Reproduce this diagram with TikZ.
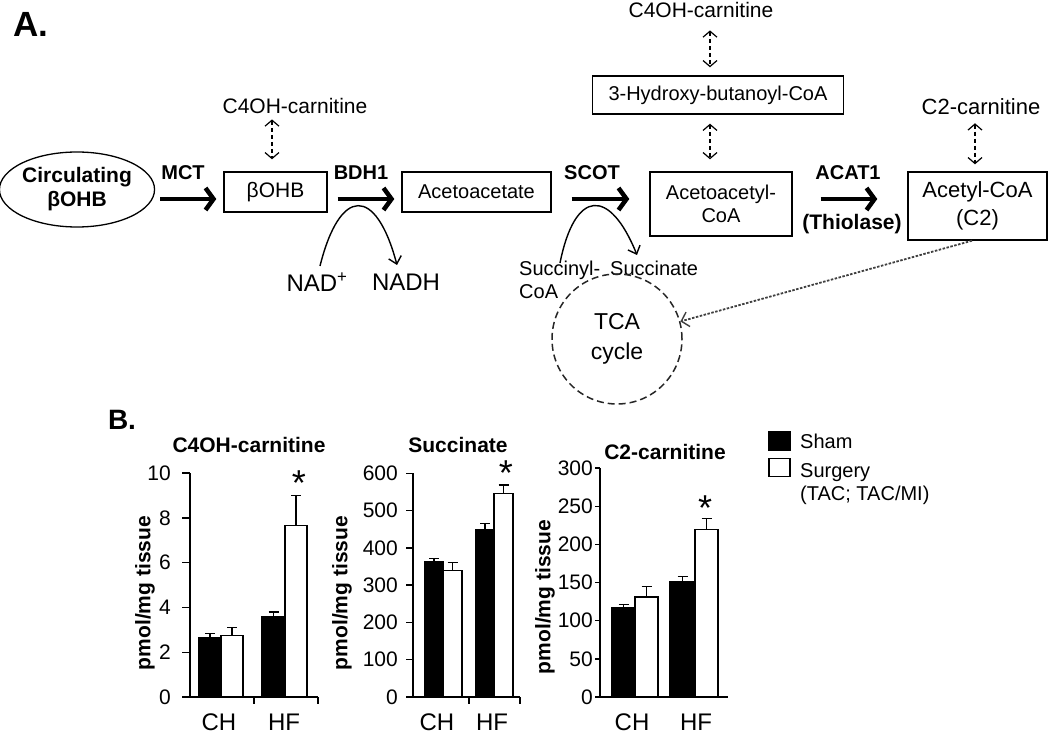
\documentclass[tikz,border=0pt]{standalone}
\usepackage{fontspec}
\setmainfont{Liberation Sans}
\usetikzlibrary{arrows.meta,calc,shapes.geometric}
\newcommand{\myfs}[1]{\fontsize{#1}{#1}\selectfont}
\newcommand{\drawbar}[6]{%
  \draw[#6] (#1,697) rectangle (#2,{697-#4*#3});
  \draw[errb] ({(#1+#2)/2},{697-#4*#3}) -- ({(#1+#2)/2},{697-#5*#3});
  \draw[errb] ({(#1+#2)/2-5},{697-#5*#3}) -- ({(#1+#2)/2+5},{697-#5*#3});
}
\begin{document}
\begin{tikzpicture}[x=1pt,y=-1pt,
  lbl/.style={inner sep=0pt, font=\myfs{20}},
  blbl/.style={inner sep=0pt, font=\bfseries\myfs{20}},
  box/.style={draw, line width=1.4pt, inner sep=0pt, align=center, font=\myfs{20}},
  fat/.style={line width=4.5pt, -{Straight Barb[length=8pt,width=22pt]}},
  thinarr/.style={line width=1.4pt, -{Straight Barb[length=7pt,width=13pt]}},
  dbl/.style={line width=1.1pt, dash pattern=on 4pt off 3pt,
    {Straight Barb[length=6pt,width=14pt,line width=1.2pt]}-{Straight Barb[length=6pt,width=14pt,line width=1.2pt]}},
  dotarr/.style={line width=1.8pt, gray!50!black, dash pattern=on 2.5pt off 1.5pt,
    -{Straight Barb[length=7pt,width=15pt,line width=1.4pt]}},
  axis/.style={line width=1.4pt},
  errb/.style={line width=1.3pt},
  shambar/.style={draw, line width=1.2pt, fill=black},
  surgbar/.style={draw, line width=1.2pt, fill=white},
  tick/.style={inner sep=0pt, font=\myfs{21}},
  ctitle/.style={inner sep=0pt, font=\bfseries\myfs{21}},
  ylab/.style={inner sep=0pt, font=\bfseries\myfs{21}, rotate=90},
  grp/.style={inner sep=0pt, font=\myfs{24}},
  star/.style={inner sep=0pt, font=\myfs{36}, anchor=north}
]
\useasboundingbox (0,0) rectangle (1050,735);

% ---------- Panel A ----------
\node[inner sep=0pt, font=\bfseries\myfs{35}] (labA) at (31,24) {A.};

\node[draw, ellipse, line width=1.3pt, minimum width=152pt, minimum height=75pt,
  inner sep=0pt, align=center, font=\bfseries\myfs{21}] (circ) at (77,189.5)
  {Circulating\\[3pt]βOHB};

\node[box, minimum width=103pt, minimum height=40pt, font=\myfs{21}] (bohb) at (275.5,192) {βOHB};
\node[box, minimum width=149pt, minimum height=40pt] (aca) at (476.5,192) {Acetoacetate};
\node[box, minimum width=142pt, minimum height=64pt] (acac) at (721,204) {Acetoacetyl-\\[3pt]CoA};
\node[box, minimum width=139pt, minimum height=68pt, font=\myfs{22}] (acoa) at (977.5,206) {Acetyl-CoA\\[6pt](C2)};
\node[box, minimum width=251pt, minimum height=38pt] (hbc) at (718,95) {3-Hydroxy-butanoyl-CoA};

\node[lbl, font=\myfs{21}] (c4l) at (295,106) {C4OH-carnitine};
\node[lbl, font=\myfs{21}] (c4t) at (701,10) {C4OH-carnitine};
\node[lbl, font=\myfs{22}] (c2) at (981,107) {C2-carnitine};

\draw[dbl, shorten <=5.5pt, shorten >=12pt] ([xshift=-23pt]c4l.south) -- ([xshift=-3.5pt]bohb.north);
\draw[dbl, shorten <=12.5pt, shorten >=8pt] ([xshift=9pt]c4t.south) -- ([xshift=-8pt]hbc.north);
\draw[dbl, shorten <=9pt, shorten >=12pt] ([xshift=-8pt]hbc.south) -- ([xshift=-11pt]acac.north);
\draw[dbl, shorten <=8pt, shorten >=7pt] ([xshift=-6pt]c2.south) -- ([xshift=-2.5pt]acoa.north);

\node[blbl] (mct) at (183,173) {MCT};
\node[blbl] (bdh) at (361,173) {BDH1};
\node[blbl] (scot) at (592,173) {SCOT};
\node[blbl] (acat) at (848,173) {ACAT1};
\node[blbl, font=\bfseries\myfs{21}] (thio) at (852,224) {(Thiolase)};

\draw[fat] ([xshift=5pt,yshift=-9.5pt]circ.east) -- ([xshift=-7pt,yshift=-7pt]bohb.west);
\draw[fat] ([xshift=10pt,yshift=-7pt]bohb.east) -- ([xshift=-7pt,yshift=-7pt]aca.west);
\draw[fat] ([xshift=20pt,yshift=-7pt]aca.east) -- ([xshift=-20pt,yshift=5pt]acac.west);
\draw[fat] ([xshift=28pt,yshift=5pt]acac.east) -- ([xshift=-30pt,yshift=7pt]acoa.west);

\node[lbl, font=\myfs{24}] (nadp) at (317,282) {NAD\textsuperscript{+}};
\node[lbl, font=\myfs{24}] (nadh) at (406,282) {NADH};
\coordinate (n0) at (320,266);
\coordinate (n1) at (397,265);
\draw[thinarr] (n0) .. controls (340,186) and (376,186) .. (n1);

\node[lbl, anchor=west, align=left] (succ) at (519,279.5) {Succinyl-\\[3pt]CoA};
\node[lbl, anchor=west] (succa) at (610,268) {Succinate};
\coordinate (s0) at (560,263);
\coordinate (s1) at (637,255);
\draw[thinarr] (s0) .. controls (575,188) and (610,188) .. (s1);

\node[draw, circle, line width=1.5pt, gray!30!black, dash pattern=on 7pt off 4pt,
  minimum size=130pt, inner sep=0pt, align=center, font=\myfs{23}, text=black] (tca) at (617,339)
  {TCA\\[7pt]cycle};
\draw[dotarr] ([xshift=-5.5pt]acoa.south) -- (tca);

% ---------- Panel B ----------
\node[inner sep=0pt, font=\bfseries\myfs{28}] (labB) at (122,420) {B.};

% chart 1
\node[ctitle] (t1) at (249,445) {C4OH-carnitine};
\node[ylab] (y1) at (145,593) {pmol/mg tissue};
\draw[axis] (190,473) -- (190,697);
\foreach \v in {0,2,4,6,8,10} {
  \draw[axis] (182,{697-\v*22.4}) -- (190,{697-\v*22.4});
  \node[tick, anchor=east] (ta\v) at (171,{697-\v*22.4}) {\v};
}
\draw[axis] (182,697) -- (318,697);
\draw[axis] (254,697) -- (254,704);
\draw[axis] (318,697) -- (318,704);
\drawbar{199}{221}{22.4}{2.65}{2.85}{shambar}
\drawbar{221}{243}{22.4}{2.75}{3.1}{surgbar}
\drawbar{262}{285}{22.4}{3.6}{3.8}{shambar}
\drawbar{285}{307}{22.4}{7.65}{9.0}{surgbar}
\node[star] (s1a) at (299,471) {*};
\node[grp] (ch1) at (219,722) {CH};
\node[grp] (hf1) at (284,722) {HF};

% chart 2
\node[ctitle] (t2) at (458,445) {Succinate};
\node[ylab] (y2) at (342,593) {pmol/mg tissue};
\draw[axis] (413,473) -- (413,697);
\foreach \v in {0,100,...,600} {
  \draw[axis] (406,{697-\v*0.373}) -- (413,{697-\v*0.373});
  \node[tick, anchor=east] (tb\v) at (398,{697-\v*0.373}) {\v};
}
\draw[axis] (406,697) -- (520,697);
\draw[axis] (469,697) -- (469,704);
\draw[axis] (520,697) -- (520,704);
\drawbar{425}{443}{0.373}{362}{372}{shambar}
\drawbar{443}{462}{0.373}{340}{360}{surgbar}
\drawbar{476}{494}{0.373}{448}{465}{shambar}
\drawbar{494}{513}{0.373}{545}{568}{surgbar}
\node[star] (s2a) at (506,461) {*};
\node[grp] (ch2) at (437,722) {CH};
\node[grp] (hf2) at (492,722) {HF};

% chart 3
\node[ctitle] (t3) at (665,452) {C2-carnitine};
\node[ylab] (y3) at (545,597) {pmol/mg tissue};
\draw[axis] (600,468) -- (600,697);
\foreach \v in {0,50,...,300} {
  \draw[axis] (595,{697-\v*0.763}) -- (600,{697-\v*0.763});
  \node[tick, anchor=east] (tc\v) at (593,{697-\v*0.763}) {\v};
}
\draw[axis] (595,697) -- (728,697);
\drawbar{612}{635}{0.763}{117}{121}{shambar}
\drawbar{635}{658}{0.763}{131}{145}{surgbar}
\drawbar{670}{695}{0.763}{151}{158}{shambar}
\drawbar{695}{718}{0.763}{220}{234}{surgbar}
\node[star] (s3a) at (705,496) {*};
\node[grp] (ch3) at (632,722) {CH};
\node[grp] (hf3) at (696,722) {HF};

% legend
\node[draw, fill=black, line width=1.2pt, minimum width=21pt, minimum height=18pt, inner sep=0pt] (lgs) at (779.5,441) {};
\node[draw, fill=white, line width=1.2pt, minimum width=21pt, minimum height=18pt, inner sep=0pt] (lgt) at (779.5,467.5) {};
\node[lbl, anchor=west] (lgst) at (800,441) {Sham};
\node[lbl, anchor=north west, align=left] (lgtt) at (800,463) {Surgery\\[3pt](TAC; TAC/MI)};
\end{tikzpicture}
\end{document}
